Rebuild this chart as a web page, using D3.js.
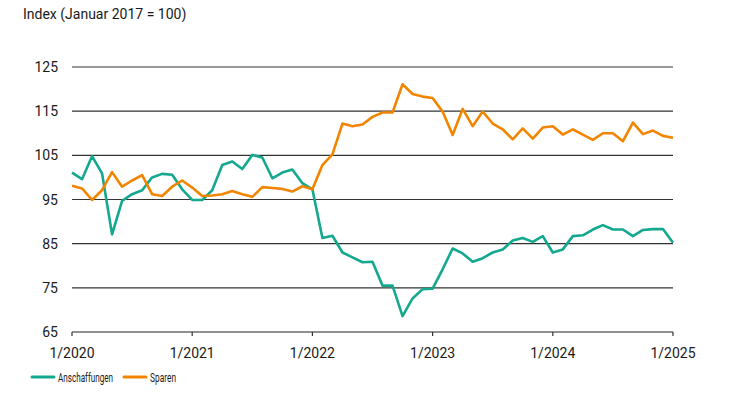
<!DOCTYPE html>
<html>
<head>
<meta charset="utf-8">
<script src="https://cdn.jsdelivr.net/npm/d3@7"></script>
<style>
  body { margin: 0; background: #fff; }
  text { font-family: "Roboto", "Liberation Sans", sans-serif; fill: #1a1a1a; }
</style>
</head>
<body>
<div id="chart"></div>
<script>
// monthly values, 1/2020 .. 1/2025
const anschaffungen = [101.1, 99.6, 104.8, 100.9, 87.1, 94.7, 96.2, 97.1, 100.0, 100.8, 100.6, 97.3,
  94.9, 94.9, 97.1, 102.8, 103.6, 101.9, 105.1, 104.5, 99.8, 101.1, 101.8, 98.7,
  97.3, 86.3, 86.8, 83.0, 81.9, 80.8, 80.9, 75.5, 75.5, 68.6, 72.6, 74.7,
  74.8, 79.2, 83.9, 82.8, 80.9, 81.7, 83.0, 83.7, 85.7, 86.3, 85.4, 86.7,
  83.0, 83.7, 86.7, 86.9, 88.2, 89.2, 88.2, 88.2, 86.7, 88.1, 88.3, 88.3,
  85.2];
const sparen = [98.1, 97.5, 94.9, 97.1, 101.2, 97.9, 99.3, 100.5, 96.2, 95.8, 97.9, 99.3,
  97.7, 95.8, 95.9, 96.2, 96.9, 96.2, 95.6, 97.8, 97.6, 97.4, 96.8, 98.0,
  97.3, 102.8, 105.2, 112.2, 111.6, 112.0, 113.7, 114.7, 114.7, 121.1, 118.9, 118.3,
  118.0, 114.9, 109.6, 115.5, 111.6, 114.9, 112.2, 110.9, 108.6, 111.1, 108.8, 111.3,
  111.6, 109.7, 110.9, 109.7, 108.5, 110.0, 110.0, 108.2, 112.4, 109.8, 110.6, 109.4,
  109.0];
const yTicks = [65, 75, 85, 95, 105, 115, 125];
const xTickMonths = [0, 12, 24, 36, 48, 60];
const xTickLabels = ["1/2020", "1/2021", "1/2022", "1/2023", "1/2024", "1/2025"];
const seriesNames = ["Anschaffungen", "Sparen"];
const colors = ["#14a88f", "#f28500"];

const w = 744, h = 409;
const svg = d3.select("#chart").append("svg").attr("width", w).attr("height", h);

const x = d3.scaleLinear().domain([0, 60]).range([72, 673]);
const y = d3.scaleLinear().domain([65, 125]).range([332, 67]);

svg.append("text").attr("x", 23).attr("y", 19).style("font-size", "14px")
  .text("Index (Januar 2017 = 100)");

// grid
svg.selectAll(".grid").data(yTicks).enter().append("line")
  .attr("x1", x(0)).attr("x2", x(60))
  .attr("y1", d => y(d)).attr("y2", d => y(d))
  .attr("stroke", d => d === 65 ? "#222" : "#333").attr("stroke-width", 1.2);

svg.selectAll(".ylab").data(yTicks).enter().append("text")
  .attr("x", 58).attr("y", d => y(d) + 5).attr("text-anchor", "end")
  .style("font-size", "14px").text(d => d);

// x ticks
svg.selectAll(".xt").data(xTickMonths).enter().append("line")
  .attr("x1", d => x(d)).attr("x2", d => x(d))
  .attr("y1", y(65)).attr("y2", y(65) + 4)
  .attr("stroke", "#333").attr("stroke-width", 1.2);

svg.selectAll(".xlab").data(xTickMonths).enter().append("text")
  .attr("x", d => x(d)).attr("y", 358).attr("text-anchor", "middle")
  .style("font-size", "14px").text((d, i) => xTickLabels[i]);

const line = d3.line().x((d, i) => x(i)).y(d => y(d));

[anschaffungen, sparen].forEach((s, i) => {
  svg.append("path").datum(s).attr("d", line)
    .attr("fill", "none").attr("stroke", colors[i])
    .attr("stroke-width", 2.6).attr("stroke-linejoin", "round");
});

// legend (narrow font in the original)
const legX = [32, 124];
const legW = [55, 26];
seriesNames.forEach((n, i) => {
  svg.append("line").attr("x1", legX[i]).attr("x2", legX[i] + 22)
    .attr("y1", 377).attr("y2", 377)
    .attr("stroke", colors[i]).attr("stroke-width", 3).attr("stroke-linecap", "round");
  svg.append("text").attr("x", legX[i] + 26).attr("y", 381.5)
    .attr("textLength", legW[i]).attr("lengthAdjust", "spacingAndGlyphs")
    .style("font-size", "13px").text(n);
});
</script>
</body>
</html>
